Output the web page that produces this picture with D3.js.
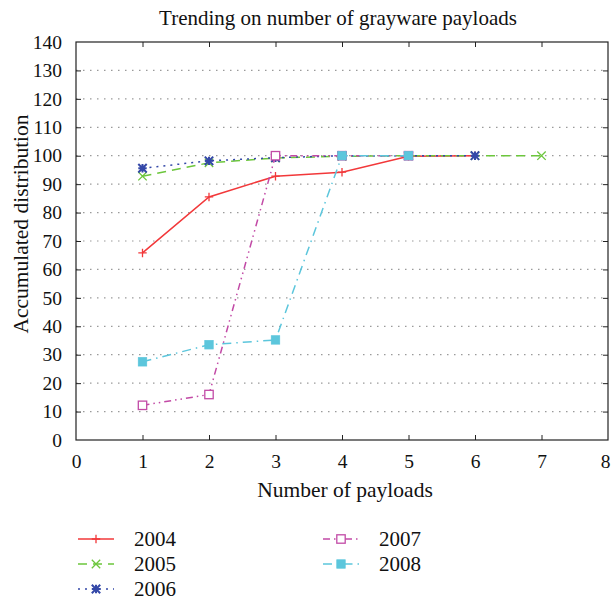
<!DOCTYPE html>
<html>
<head>
<meta charset="utf-8">
<script src="https://cdn.jsdelivr.net/npm/d3@7/dist/d3.min.js"></script>
<style>
  body { margin: 0; background: #fff; }
  svg { display: block; }
  text { font-family: "Liberation Serif", "DejaVu Serif", serif; fill: #111; }
</style>
</head>
<body>
<svg id="chart" width="611" height="601"></svg>
<script>
// Data
const xTicks = [0, 1, 2, 3, 4, 5, 6, 7, 8];
const yTicks = [0, 10, 20, 30, 40, 50, 60, 70, 80, 90, 100, 110, 120, 130, 140];
const years = ["2004", "2005", "2006", "2007", "2008"];
const payloads2004 = [1, 2, 3, 4, 5, 6];
const values2004 = [65.8, 85.5, 92.8, 94.2, 99.8, 100];
const payloads2005 = [1, 2, 3, 4, 5, 6, 7];
const values2005 = [92.8, 97.5, 99.2, 99.8, 100, 100, 100];
const payloads2006 = [1, 2, 3, 4, 5, 6];
const values2006 = [95.6, 98.2, 99.3, 100, 100, 100];
const payloads2007 = [1, 2, 3, 4, 5];
const values2007 = [12.2, 16, 100, 100, 100];
const payloads2008 = [1, 2, 3, 4, 5];
const values2008 = [27.5, 33.5, 35.2, 100, 100];

const series = [
  { name: years[0], xs: payloads2004, ys: values2004, color: "#f2383a", dash: null, marker: "plus" },
  { name: years[1], xs: payloads2005, ys: values2005, color: "#6cc63c", dash: "9,6", marker: "cross" },
  { name: years[2], xs: payloads2006, ys: values2006, color: "#3448a8", dash: "2,5", marker: "star" },
  { name: years[3], xs: payloads2007, ys: values2007, color: "#c24aa6", dash: "7,4,1.5,4,1.5,4", marker: "openSquare" },
  { name: years[4], xs: payloads2008, ys: values2008, color: "#5cc6dc", dash: "9,5,1.5,5", marker: "filledSquare" }
];

const svg = d3.select("#chart");
const margin = { left: 76, right: 608, top: 42, bottom: 440 };

const x = d3.scaleLinear().domain([0, 8]).range([margin.left, margin.right]);
const y = d3.scaleLinear().domain([0, 140]).range([margin.bottom, margin.top]);

// Title
svg.append("text")
  .attr("x", 338)
  .attr("y", 25)
  .attr("text-anchor", "middle")
  .style("font-size", "21px")
  .text("Trending on number of grayware payloads");

// Dotted horizontal grid
svg.append("g")
  .selectAll("line")
  .data(yTicks.filter(d => d > 0 && d < 140))
  .join("line")
  .attr("x1", margin.left)
  .attr("x2", margin.right)
  .attr("y1", d => y(d))
  .attr("y2", d => y(d))
  .attr("stroke", "#9a9a9a")
  .attr("stroke-width", 1.2)
  .attr("stroke-dasharray", "1.5,5.5");

// Axes with inward ticks
const tickLen = 5;
svg.append("g")
  .attr("transform", `translate(0,${margin.bottom})`)
  .call(d3.axisBottom(x).tickValues(xTicks).tickSize(-tickLen).tickPadding(14).tickFormat(d3.format("d")))
  .call(g => g.select(".domain").remove())
  .call(g => g.selectAll(".tick").filter(d => d === 0 || d === 8).select("line").remove())
  .call(g => g.selectAll("text").style("font-size", "19.5px").attr("fill", "#111"))
  .call(g => g.selectAll(".tick").filter(d => d === 8).select("text").attr("dx", "-3"));

svg.append("g")
  .attr("transform", `translate(0,${margin.top})`)
  .call(d3.axisTop(x).tickValues(xTicks.filter(d => d > 0 && d < 8)).tickSize(-tickLen).tickFormat(""))
  .call(g => g.select(".domain").remove());

svg.append("g")
  .attr("transform", `translate(${margin.left},0)`)
  .call(d3.axisLeft(y).tickValues(yTicks).tickSize(-tickLen).tickPadding(14).tickFormat(d3.format("d")))
  .call(g => g.select(".domain").remove())
  .call(g => g.selectAll(".tick").filter(d => d === 0 || d === 140).select("line").remove())
  .call(g => g.selectAll("text").style("font-size", "19.5px").attr("fill", "#111"));

svg.append("g")
  .attr("transform", `translate(${margin.right},0)`)
  .call(d3.axisRight(y).tickValues(yTicks.filter(d => d > 0 && d < 140)).tickSize(-tickLen).tickFormat(""))
  .call(g => g.select(".domain").remove());

svg.selectAll(".tick line").attr("stroke", "#222");

// Frame
svg.append("rect")
  .attr("x", margin.left)
  .attr("y", margin.top)
  .attr("width", margin.right - margin.left)
  .attr("height", margin.bottom - margin.top)
  .attr("fill", "none")
  .attr("stroke", "#222")
  .attr("stroke-width", 1.2);

// Axis titles
svg.append("text")
  .attr("x", 345)
  .attr("y", 497)
  .attr("text-anchor", "middle")
  .style("font-size", "21.5px")
  .text("Number of payloads");

svg.append("text")
  .attr("transform", "translate(28,224) rotate(-90)")
  .attr("text-anchor", "middle")
  .style("font-size", "21.5px")
  .text("Accumulated distribution");

// Markers
function drawMarker(g, type, cx, cy, color) {
  const s = 4.2;
  if (type === "plus") {
    g.append("path").attr("d", `M${cx - s},${cy}H${cx + s}M${cx},${cy - s}V${cy + s}`)
      .attr("stroke", color).attr("stroke-width", 1.3).attr("fill", "none");
  } else if (type === "cross") {
    g.append("path").attr("d", `M${cx - s},${cy - s}L${cx + s},${cy + s}M${cx - s},${cy + s}L${cx + s},${cy - s}`)
      .attr("stroke", color).attr("stroke-width", 1.3).attr("fill", "none");
  } else if (type === "star") {
    g.append("path").attr("d", `M${cx - s},${cy}H${cx + s}M${cx},${cy - s}V${cy + s}M${cx - s},${cy - s}L${cx + s},${cy + s}M${cx - s},${cy + s}L${cx + s},${cy - s}`)
      .attr("stroke", color).attr("stroke-width", 2).attr("fill", "none");
  } else if (type === "openSquare") {
    g.append("rect").attr("x", cx - s).attr("y", cy - s).attr("width", 2 * s).attr("height", 2 * s)
      .attr("fill", "#fff").attr("stroke", color).attr("stroke-width", 1.3);
  } else if (type === "filledSquare") {
    g.append("rect").attr("x", cx - s).attr("y", cy - s).attr("width", 2 * s).attr("height", 2 * s)
      .attr("fill", color).attr("stroke", color).attr("stroke-width", 0.8);
  }
}

const line = d3.line().x(d => x(d[0])).y(d => y(d[1]));

series.forEach(s => {
  const pts = s.xs.map((v, i) => [v, s.ys[i]]);
  const g = svg.append("g");
  g.append("path")
    .attr("d", line(pts))
    .attr("fill", "none")
    .attr("stroke", s.color)
    .attr("stroke-width", 1.5)
    .attr("stroke-dasharray", s.dash);
  pts.forEach(p => drawMarker(g, s.marker, x(p[0]), y(p[1]), s.color));
});

// Legend
const legendPos = [
  { lx: 78, ty: 539 }, { lx: 78, ty: 564 }, { lx: 78, ty: 589 },
  { lx: 323, ty: 539 }, { lx: 323, ty: 564 }
];
series.forEach((s, i) => {
  const p = legendPos[i];
  const g = svg.append("g");
  g.append("line")
    .attr("x1", p.lx).attr("x2", p.lx + 36)
    .attr("y1", p.ty).attr("y2", p.ty)
    .attr("stroke", s.color).attr("stroke-width", 1.5)
    .attr("stroke-dasharray", s.dash);
  drawMarker(g, s.marker, p.lx + 18, p.ty, s.color);
  g.append("text")
    .attr("x", p.lx + 56)
    .attr("y", p.ty + 7)
    .style("font-size", "21px")
    .text(s.name);
});
</script>
</body>
</html>
